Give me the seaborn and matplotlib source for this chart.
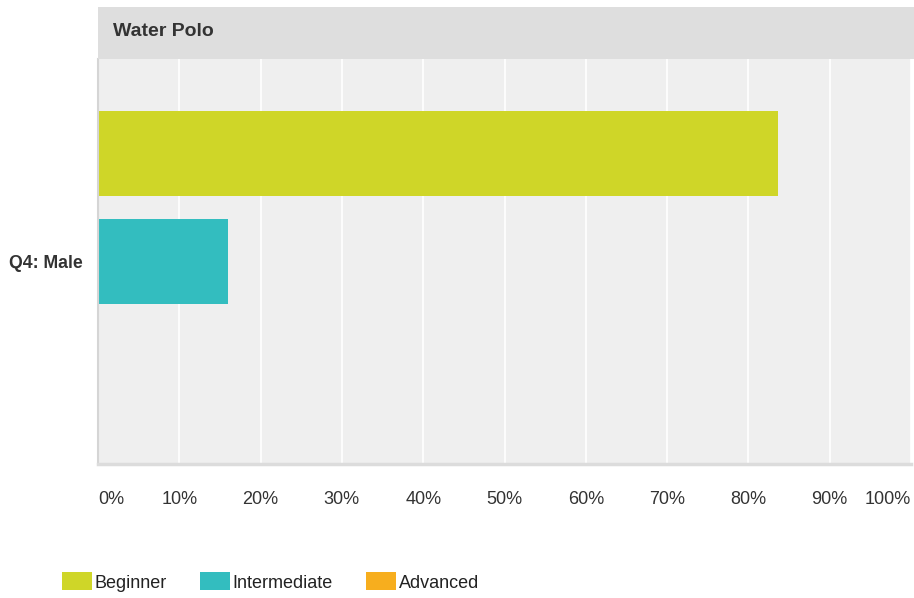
import numpy as np
import pandas as pd
import matplotlib
matplotlib.use('Agg')
import matplotlib.pyplot as plt
from matplotlib.patches import Rectangle
import seaborn as sns

# data
questions = ['Q4: Male']
levels = ['Beginner', 'Intermediate', 'Advanced']
pct = [83.7, 16.0, 0.0]
ticks = [0, 10, 20, 30, 40, 50, 60, 70, 80, 90, 100]
tick_labels = ['0%', '10%', '20%', '30%', '40%', '50%', '60%', '70%', '80%', '90%', '100%']
colors = ['#cfd628', '#33bdbf', '#f7ae1e']
title = 'Water Polo'

df = pd.DataFrame({'question': questions * len(levels), 'level': levels, 'pct': pct})

sns.set_theme(style='white')
plt.rcParams['font.family'] = ['Liberation Sans', 'DejaVu Sans']

W, H = 914, 598
fig = plt.figure(figsize=(W / 100, H / 100), dpi=100)
ax = fig.add_axes([98 / W, 1 - 464 / H, (911 - 98) / W, (464 - 59) / H])
ax.set_facecolor('#efefef')

sns.barplot(data=df, x='pct', y='question', hue='level', hue_order=levels,
            palette=colors, orient='h', width=0.8, gap=0.22, saturation=1,
            linewidth=0, legend=True, ax=ax)

ax.set_xlim(0, 100)
ax.set_xticks(ticks)
ax.set_xticklabels(tick_labels)
ax.grid(True, axis='x', color='white', lw=1.2)
ax.grid(False, axis='y')
ax.set_axisbelow(True)
ax.tick_params(axis='x', length=0, pad=19.5, labelsize=13, labelcolor='#333333')
ax.tick_params(axis='y', length=0, pad=11, labelsize=12.7, labelcolor='#333333')
for lab in ax.get_yticklabels():
    lab.set_fontweight('bold')
xl = ax.get_xticklabels()
xl[0].set_horizontalalignment('left')
xl[-1].set_horizontalalignment('right')
ax.set_xlabel('')
ax.set_ylabel('')

for s in ['top', 'right']:
    ax.spines[s].set_visible(False)
ax.spines['left'].set_color('#d5d5d5')
ax.spines['left'].set_linewidth(1.5)
ax.spines['bottom'].set_color('#dcdcdc')
ax.spines['bottom'].set_linewidth(2.5)

# header band
fig.add_artist(Rectangle((98 / W, 1 - 59 / H), (W - 98) / W, 52 / H,
                         transform=fig.transFigure, facecolor='#dedede', edgecolor='none'))
fig.text(113 / W, 1 - 31 / H, title, fontsize=14, fontweight='bold', color='#333333',
         va='center', ha='left')

handles, labels = ax.get_legend_handles_labels()
ax.get_legend().remove()
fig.legend(handles, labels, loc='center left', bbox_to_anchor=(62 / W, 1 - 582 / H),
           ncol=3, frameon=False, fontsize=13, handlelength=1.65, handleheight=1.15,
           handletextpad=0.15, columnspacing=1.85, borderpad=0, borderaxespad=0,
           labelcolor='#222222')

fig.savefig('out.png', dpi=100)
